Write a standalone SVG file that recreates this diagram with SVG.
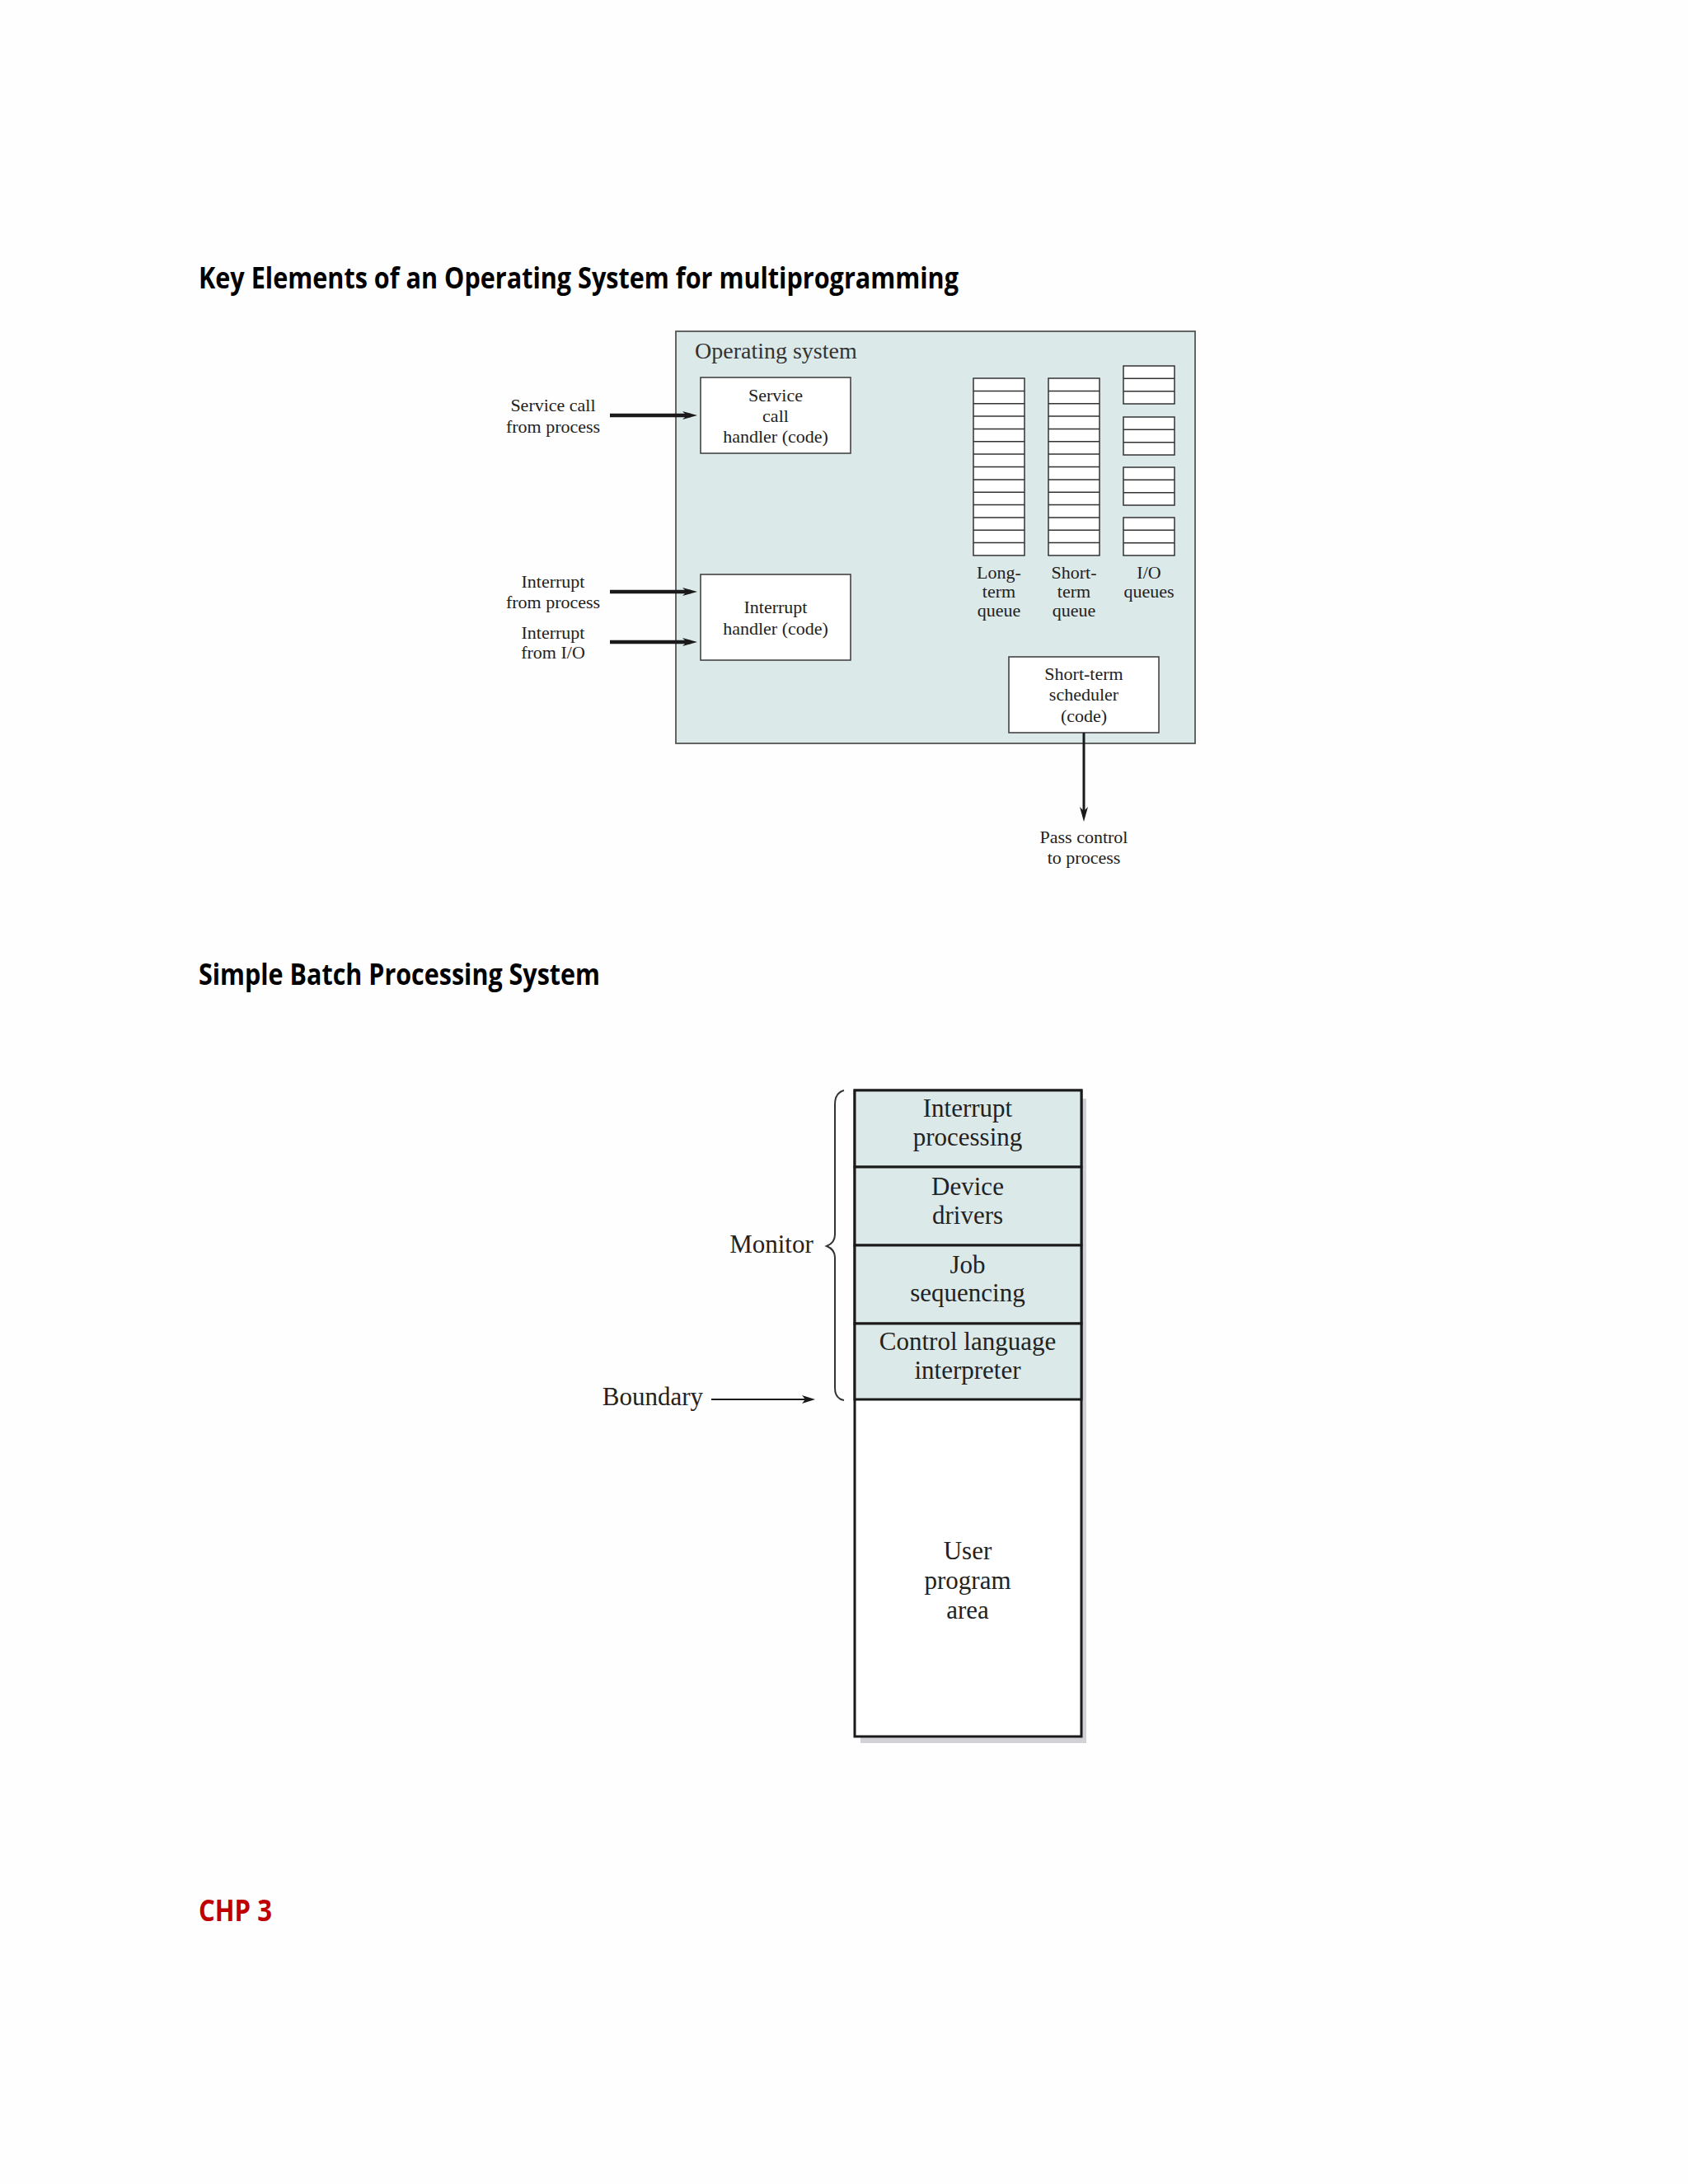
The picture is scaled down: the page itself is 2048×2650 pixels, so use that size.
<svg xmlns="http://www.w3.org/2000/svg" width="2048" height="2650" viewBox="0 0 2048 2650">
<defs>
<style>
.title{font-family:"Open Sans","Liberation Sans",sans-serif;font-weight:700;font-size:35px;fill:#000}
.t{font-family:"Liberation Serif","DejaVu Serif",serif;font-size:22px;fill:#222;text-anchor:middle}
.tb{font-family:"Liberation Serif","DejaVu Serif",serif;font-size:31px;fill:#222;text-anchor:middle}
.box{fill:#fff;stroke:#444;stroke-width:1.6}
.cell{fill:#fff;stroke:#333;stroke-width:1.5}
.mon{fill:#dce9e9;stroke:#1a1a1a;stroke-width:3}
</style>
<marker id="ah" viewBox="0 0 18 10" refX="10" refY="5" markerWidth="18" markerHeight="10" orient="auto" markerUnits="userSpaceOnUse"><path d="M0,0 L18,5 L0,10 L5,5 z" fill="#1a1a1a"/></marker>
<marker id="ahs" viewBox="0 0 16 10" refX="8" refY="5" markerWidth="16" markerHeight="10" orient="auto" markerUnits="userSpaceOnUse"><path d="M0,0 L16,5 L0,10 L4,5 z" fill="#1a1a1a"/></marker>
</defs>
<rect x="0" y="0" width="2048" height="2650" fill="#fefefe"/>

<text class="title" x="241" y="350" textLength="922" lengthAdjust="spacingAndGlyphs">Key Elements of an Operating System for multiprogramming</text>

<g id="os">
<rect x="820" y="402" width="630" height="500" fill="#dce9e9" stroke="#555" stroke-width="1.8"/>
<text x="843" y="435" font-family="Liberation Serif, serif" font-size="28" fill="#333">Operating system</text>
</g>

<g id="svc-handler">
<rect class="box" x="850" y="458" width="182" height="92"/>
<text class="t" x="941" y="487">Service</text>
<text class="t" x="941" y="512">call</text>
<text class="t" x="941" y="537">handler (code)</text>
</g>

<g id="int-handler">
<rect class="box" x="850" y="697" width="182" height="104"/>
<text class="t" x="941" y="744">Interrupt</text>
<text class="t" x="941" y="770">handler (code)</text>
</g>

<g id="long-term-queue">
<rect class="cell" x="1181" y="459" width="62" height="215"/>
<path stroke="#333" stroke-width="1.5" d="M1181,474.4H1243M1181,489.7H1243M1181,505.1H1243M1181,520.4H1243M1181,535.8H1243M1181,551.1H1243M1181,566.5H1243M1181,581.9H1243M1181,597.2H1243M1181,612.6H1243M1181,627.9H1243M1181,643.3H1243M1181,658.6H1243"/>
<text class="t" x="1212" y="702">Long-</text>
<text class="t" x="1212" y="725">term</text>
<text class="t" x="1212" y="748">queue</text>
</g>

<g id="short-term-queue">
<rect class="cell" x="1272" y="459" width="62" height="215"/>
<path stroke="#333" stroke-width="1.5" d="M1272,474.4H1334M1272,489.7H1334M1272,505.1H1334M1272,520.4H1334M1272,535.8H1334M1272,551.1H1334M1272,566.5H1334M1272,581.9H1334M1272,597.2H1334M1272,612.6H1334M1272,627.9H1334M1272,643.3H1334M1272,658.6H1334"/>
<text class="t" x="1303" y="702">Short-</text>
<text class="t" x="1303" y="725">term</text>
<text class="t" x="1303" y="748">queue</text>
</g>

<g id="io-queues">
<rect class="cell" x="1363" y="444" width="62" height="46"/>
<rect class="cell" x="1363" y="506" width="62" height="46"/>
<rect class="cell" x="1363" y="567" width="62" height="46"/>
<rect class="cell" x="1363" y="628" width="62" height="46"/>
<path stroke="#333" stroke-width="1.5" d="M1363,459.3H1425M1363,474.7H1425M1363,521.3H1425M1363,536.7H1425M1363,582.3H1425M1363,597.7H1425M1363,643.3H1425M1363,658.7H1425"/>
<text class="t" x="1394" y="702">I/O</text>
<text class="t" x="1394" y="725">queues</text>
</g>

<g id="scheduler">
<rect class="box" x="1224" y="797" width="182" height="92"/>
<text class="t" x="1315" y="825">Short-term</text>
<text class="t" x="1315" y="850">scheduler</text>
<text class="t" x="1315" y="876">(code)</text>
</g>

<g id="labels-os">
<text class="t" x="671" y="499">Service call</text>
<text class="t" x="671" y="525">from process</text>
<text class="t" x="671" y="713">Interrupt</text>
<text class="t" x="671" y="738">from process</text>
<text class="t" x="671" y="775">Interrupt</text>
<text class="t" x="671" y="799">from I/O</text>
<text class="t" x="1315" y="1023">Pass control</text>
<text class="t" x="1315" y="1048">to process</text>
</g>

<g id="connectors">
<line x1="740" y1="504" x2="838" y2="504" stroke="#1a1a1a" stroke-width="4.5" marker-end="url(#ah)"/>
<line x1="740" y1="718" x2="838" y2="718" stroke="#1a1a1a" stroke-width="4.5" marker-end="url(#ah)"/>
<line x1="740" y1="779" x2="838" y2="779" stroke="#1a1a1a" stroke-width="4.5" marker-end="url(#ah)"/>
<line x1="1315" y1="889" x2="1315" y2="989" stroke="#1a1a1a" stroke-width="3" marker-end="url(#ah)"/>
<line x1="863" y1="1698" x2="981" y2="1698" stroke="#1a1a1a" stroke-width="2" marker-end="url(#ahs)"/>
</g>

<text class="title" x="241" y="1195" textLength="487" lengthAdjust="spacingAndGlyphs">Simple Batch Processing System</text>

<g id="memory">
<rect x="1044" y="1333" width="274" height="782" fill="#d2d2d6"/>
<rect x="1037" y="1323" width="275" height="784" fill="#fff" stroke="#1a1a1a" stroke-width="3"/>
</g>
<g id="interrupt-processing">
<rect class="mon" x="1037" y="1323" width="275" height="93"/>
<text class="tb" x="1174" y="1355">Interrupt</text>
<text class="tb" x="1174" y="1390">processing</text>
</g>
<g id="device-drivers">
<rect class="mon" x="1037" y="1416" width="275" height="95"/>
<text class="tb" x="1174" y="1450">Device</text>
<text class="tb" x="1174" y="1485">drivers</text>
</g>
<g id="job-sequencing">
<rect class="mon" x="1037" y="1511" width="275" height="95"/>
<text class="tb" x="1174" y="1545">Job</text>
<text class="tb" x="1174" y="1579">sequencing</text>
</g>
<g id="control-language">
<rect class="mon" x="1037" y="1606" width="275" height="92"/>
<text class="tb" x="1174" y="1638">Control language</text>
<text class="tb" x="1174" y="1673">interpreter</text>
</g>
<g id="user-area">
<text class="tb" x="1174" y="1892">User</text>
<text class="tb" x="1174" y="1928">program</text>
<text class="tb" x="1174" y="1964">area</text>
</g>

<g id="monitor-brace">
<path d="M1024,1323 Q1013,1326 1013,1340 L1013,1498 Q1013,1508 1003,1512 Q1013,1516 1013,1526 L1013,1684 Q1013,1697 1024,1699" fill="none" stroke="#333" stroke-width="2"/>
<text class="tb" x="936" y="1520">Monitor</text>
</g>
<g id="boundary">
<text class="tb" x="792" y="1705">Boundary</text>
</g>

<text x="241" y="2331" font-family="Open Sans, Liberation Sans, sans-serif" font-weight="700" font-size="35" fill="#c00000" textLength="89" lengthAdjust="spacingAndGlyphs">CHP 3</text>
</svg>
